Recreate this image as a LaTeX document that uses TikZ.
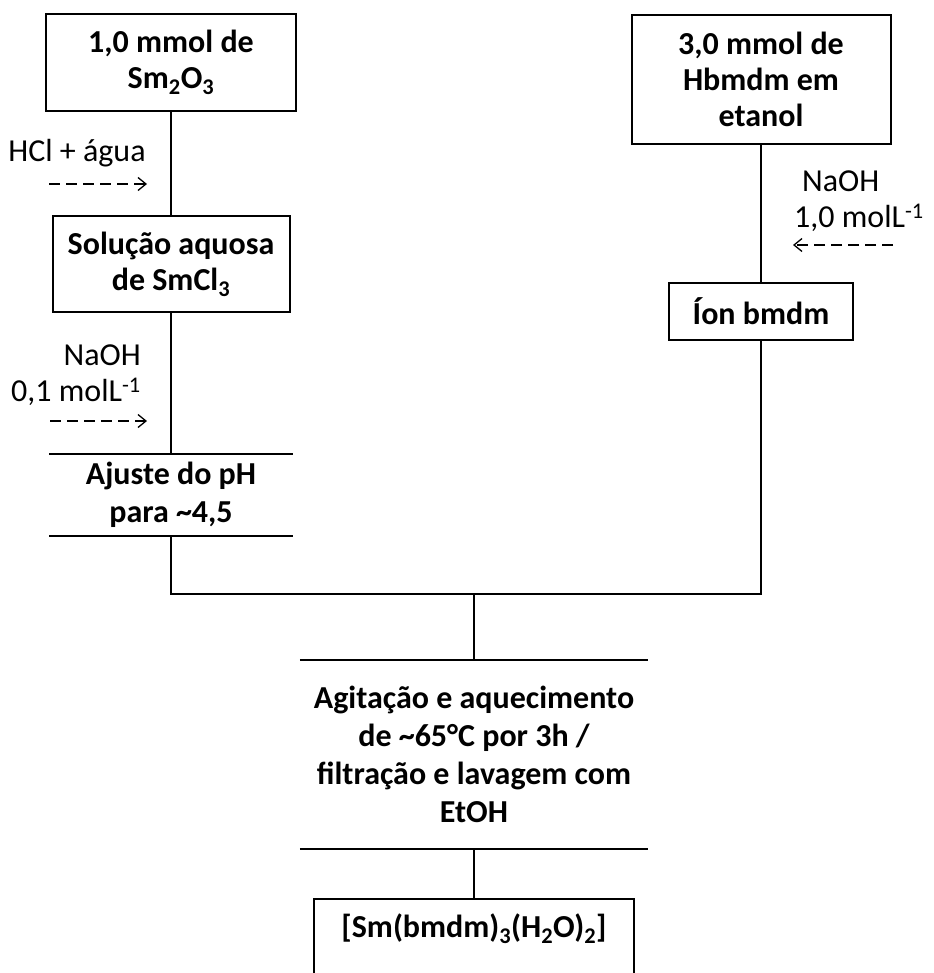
\documentclass[tikz,border=0pt]{standalone}
\usepackage{fontspec}
\setmainfont{Carlito}
\usetikzlibrary{arrows.meta}

\begin{document}
\begin{tikzpicture}[x=1pt, y=-1pt]
    \tikzset{box/.style={draw, line width=2pt, align=center, inner sep=0pt, font=\bfseries\fontsize{32}{36}\selectfont},
             bar/.style={align=center, inner sep=0pt, font=\bfseries\fontsize{32}{38}\selectfont},
             reagent/.style={inner sep=0pt, font=\fontsize{32}{36}\selectfont},
             myline/.style={line width=2pt},
             myarrow/.style={-{Straight Barb[length=8pt, width=13pt]}, line width=1.3pt, dash pattern=on 11pt off 6pt}}

    \useasboundingbox (0,0) rectangle (933,973);

    \draw node[box, minimum width=250, minimum height=97] (sm2o3) at (171,62.5) {1,0 mmol de\\Sm\textsubscript{2}O\textsubscript{3}};
    \draw node[box, minimum width=237, minimum height=96] (smcl3) at (171,264) {Solução aquosa\\de SmCl\textsubscript{3}};
    \draw node[bar, minimum width=243, minimum height=82] (ajuste) at (171,495) {Ajuste do pH\\para \textasciitilde4,5};
    \draw node[box, minimum width=259, minimum height=129] (hbmdm) at (761,79.5) {3,0 mmol de\\Hbmdm em\\etanol};
    \draw node[box, minimum width=184, minimum height=57] (ion) at (761,311.5) {Íon bmdm};
    \draw node[bar, minimum width=348, minimum height=188] (agit) at (474,754.5) {Agitação e aquecimento\\de \textasciitilde65°C por 3h /\\filtração e lavagem com\\EtOH};
    \draw node[box, anchor=base, minimum width=320, text height=38, text depth=62] (prod) at (474,937) {[Sm(bmdm)\textsubscript{3}(H\textsubscript{2}O)\textsubscript{2}]};

    % reagents
    \draw node[reagent] (hcl) at (77,153) {HCl + água};
    \draw node[reagent, align=right, anchor=east] (naoh1) at (141,375) {NaOH\\0,1 molL\textsuperscript{-1}};
    \draw node[reagent, align=left, anchor=west] (naoh2) at (794,201) {\hspace{8pt}NaOH\\1,0 molL\textsuperscript{-1}};

    \coordinate (hcl in) at (49,184);
    \coordinate (hcl out) at (147,184);
    \coordinate (naoh1 in) at (50,421);
    \coordinate (naoh1 out) at (147,421);
    \coordinate (naoh2 in) at (893,245);
    \coordinate (naoh2 out) at (793,245);
    \coordinate (join) at (474,594);

    \draw[myarrow] (hcl in) -- (hcl out);
    \draw[myarrow] (naoh1 in) -- (naoh1 out);
    \draw[myarrow] (naoh2 in) -- (naoh2 out);

    \draw[myline] (ajuste.north west) -- (ajuste.north east);
    \draw[myline] (ajuste.south west) -- (ajuste.south east);
    \draw[myline] (agit.north west) -- (agit.north east);
    \draw[myline] (agit.south west) -- (agit.south east);

    \draw[myline] (sm2o3) -- (smcl3);
    \draw[myline] (smcl3) -- (ajuste);
    \draw[myline] (hbmdm) -- (ion);
    \draw[myline] (ajuste.south) |- (join) -| (ion.south);
    \draw[myline] (join) -- (agit);
    \draw[myline] (agit) -- (prod);
\end{tikzpicture}
\end{document}
